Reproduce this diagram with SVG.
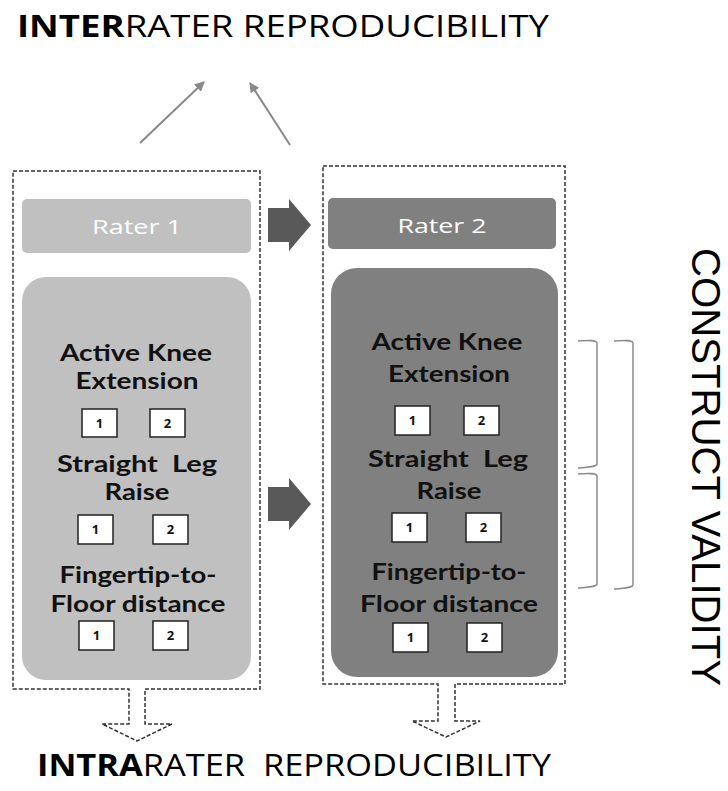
<svg xmlns="http://www.w3.org/2000/svg" width="728" height="791" viewBox="0 0 728 791">
<style>
.title{font-family:"Open Sans","Liberation Sans",sans-serif;font-size:31px;fill:#000}
.b{font-weight:bold}
.rater{font-family:"Open Sans","DejaVu Sans",sans-serif;font-size:20px;fill:#fff;text-anchor:middle}
.item{font-family:Lato,"Open Sans",sans-serif;font-size:23px;font-weight:bold;fill:#111;text-anchor:middle}
.num{font-family:"Open Sans","Liberation Sans",sans-serif;font-size:13px;font-weight:bold;fill:#111;text-anchor:middle}
.nbox{fill:#fff;stroke:#222;stroke-width:1.5}
.dash{fill:none;stroke:#333;stroke-width:1.5;stroke-dasharray:4 2}
.thin{stroke:#888;stroke-width:2;fill:none}
.block{fill:#595959}
.brk{fill:none;stroke:#8a8a8a;stroke-width:1.5}
.cv{font-family:"Liberation Sans",Arial,sans-serif;font-size:40px;fill:#000}
</style>
<defs>
<marker id="ah" viewBox="0 0 10 10" refX="9" refY="5" markerWidth="5" markerHeight="5" orient="auto" markerUnits="strokeWidth">
<path d="M0,0 L10,5 L0,10 Z" fill="#888"/>
</marker>
</defs>
<rect width="728" height="791" fill="#fff"/>

<g id="title-inter">
<text class="title" x="17" y="37" textLength="532" lengthAdjust="spacingAndGlyphs"><tspan class="b">INTER</tspan>RATER REPRODUCIBILITY</text>
</g>
<g id="title-intra">
<text class="title" x="37" y="776" textLength="514" lengthAdjust="spacingAndGlyphs"><tspan class="b">INTRA</tspan>RATER&#160; REPRODUCIBILITY</text>
</g>
<g id="construct-validity">
<text class="cv" transform="translate(692,248) rotate(90)" x="0" y="0" textLength="438" lengthAdjust="spacingAndGlyphs">CONSTRUCT VALIDITY</text>
</g>

<g id="rater1-group">
<path class="dash" d="M13,171 H260 V689 H145 V724 H172 L137,741 L102,724 H129 V689 H13 Z"/>
<rect x="22" y="199" width="229" height="54" rx="5" fill="#c0c0c0"/>
<text class="rater" x="137" y="234" textLength="90" lengthAdjust="spacingAndGlyphs">Rater 1</text>
<rect x="22" y="277" width="229" height="403" rx="24" fill="#c0c0c0"/>
<text class="item" x="136" y="361" textLength="152" lengthAdjust="spacingAndGlyphs">Active Knee</text>
<text class="item" x="137" y="389" textLength="123" lengthAdjust="spacingAndGlyphs">Extension</text>
<rect class="nbox" x="82" y="409" width="35" height="28"/>
<text class="num" x="99.5" y="428">1</text>
<rect class="nbox" x="150" y="409" width="35" height="28"/>
<text class="num" x="167.5" y="428">2</text>
<text class="item" x="137" y="472" textLength="160" lengthAdjust="spacingAndGlyphs">Straight&#160; Leg</text>
<text class="item" x="137" y="500" textLength="65" lengthAdjust="spacingAndGlyphs">Raise</text>
<rect class="nbox" x="78" y="515" width="35" height="29"/>
<text class="num" x="95.5" y="534">1</text>
<rect class="nbox" x="153" y="515" width="35" height="29"/>
<text class="num" x="170.5" y="534">2</text>
<text class="item" x="138" y="583" textLength="157" lengthAdjust="spacingAndGlyphs">Fingertip-to-</text>
<text class="item" x="138" y="612" textLength="175" lengthAdjust="spacingAndGlyphs">Floor distance</text>
<rect class="nbox" x="79" y="621" width="35" height="29"/>
<text class="num" x="96.5" y="640">1</text>
<rect class="nbox" x="153" y="621" width="35" height="29"/>
<text class="num" x="170.5" y="640">2</text>
</g>

<g id="rater2-group">
<path class="dash" d="M323,166 H565 V684 H455 V721 H480 L446,737 L412,721 H438 V684 H323 Z"/>
<rect x="328" y="198" width="228" height="51" rx="5" fill="#808080"/>
<text class="rater" x="442" y="233" textLength="89" lengthAdjust="spacingAndGlyphs">Rater 2</text>
<rect x="331" y="268" width="227" height="409" rx="26" fill="#808080"/>
<text class="item" x="447" y="350" textLength="151" lengthAdjust="spacingAndGlyphs">Active Knee</text>
<text class="item" x="449" y="382" textLength="122" lengthAdjust="spacingAndGlyphs">Extension</text>
<rect class="nbox" x="395" y="406" width="35" height="29"/>
<text class="num" x="412.5" y="425">1</text>
<rect class="nbox" x="464" y="406" width="35" height="29"/>
<text class="num" x="481.5" y="425">2</text>
<text class="item" x="448" y="467" textLength="160" lengthAdjust="spacingAndGlyphs">Straight&#160; Leg</text>
<text class="item" x="449" y="499" textLength="65" lengthAdjust="spacingAndGlyphs">Raise</text>
<rect class="nbox" x="392" y="513" width="35" height="29"/>
<text class="num" x="409.5" y="532">1</text>
<rect class="nbox" x="466" y="513" width="35" height="29"/>
<text class="num" x="483.5" y="532">2</text>
<text class="item" x="449" y="580" textLength="155" lengthAdjust="spacingAndGlyphs">Fingertip-to-</text>
<text class="item" x="449" y="612" textLength="178" lengthAdjust="spacingAndGlyphs">Floor distance</text>
<rect class="nbox" x="393" y="623" width="35" height="29"/>
<text class="num" x="410.5" y="642">1</text>
<rect class="nbox" x="467" y="623" width="35" height="29"/>
<text class="num" x="484.5" y="642">2</text>
</g>

<g id="connectors">
<line class="thin" x1="140" y1="143" x2="204" y2="82" marker-end="url(#ah)"/>
<line class="thin" x1="290" y1="145" x2="250" y2="83" marker-end="url(#ah)"/>
<path class="block" d="M268,208 H289 V199 L311,225 L289,251 V242 H268 Z"/>
<path class="block" d="M268,487 H289 V478 L311,504 L289,530 V521 H268 Z"/>
</g>

<g id="brackets">
<path class="brk" d="M578,341 C590,340 596,340 597,343 V464 C596,467 590,467 578,468"/>
<path class="brk" d="M578,474 C590,473 596,473 597,476 V584 C596,587 590,587 578,588"/>
<path class="brk" d="M614,341 C626,340 632,340 633,343 V585 C632,588 626,588 614,589"/>
</g>
</svg>
